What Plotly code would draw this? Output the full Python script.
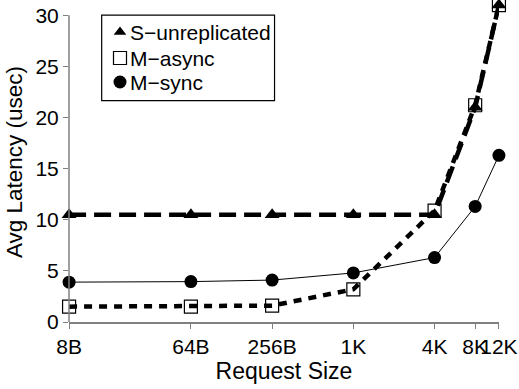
import plotly.graph_objects as go

sizes = [8, 64, 256, 1024, 4096, 8192, 12288]
tick_labels = ["8B", "64B", "256B", "1K", "4K", "8K", "12K"]
s_unrep = [10.5, 10.5, 10.5, 10.5, 10.5, 21.0, 31.0]
m_async = [1.5, 1.5, 1.6, 3.2, 10.9, 21.2, 31.0]
m_sync = [3.9, 3.95, 4.1, 4.8, 6.3, 11.3, 16.3]
y_ticks = [0, 5, 10, 15, 20, 25, 30]
series_names = ["S\u2212unreplicated", "M\u2212async", "M\u2212sync"]

FONT = "Liberation Sans, Arial, Helvetica, sans-serif"
TRI = dict(symbol="triangle-up", size=13, color="black")
SQ = dict(symbol="square-open", size=13, color="black", line=dict(width=1.2))
CIR = dict(symbol="circle", size=13, color="black")

fig = go.Figure()

fig.add_trace(go.Scatter(x=sizes, y=m_sync, mode="lines+markers", name=series_names[2],
                         line=dict(color="black", width=1), marker=CIR, cliponaxis=False))
fig.add_trace(go.Scatter(x=sizes, y=m_async, mode="lines+markers", name=series_names[1],
                         line=dict(color="black", width=4.5, dash="8px,7px"), marker=SQ,
                         cliponaxis=False))
fig.add_trace(go.Scatter(x=sizes, y=s_unrep, mode="lines+markers", name=series_names[0],
                         line=dict(color="black", width=4.5, dash="17px,8px"), marker=TRI,
                         cliponaxis=False))

# compact legend drawn on an overlay axis (0..1 in plot-area units)
leg_y = [0.906, 0.825, 0.75]
for sym, yy in zip([dict(TRI, size=11), SQ, CIR], leg_y):
    fig.add_trace(go.Scatter(x=[0.1186], y=[yy], mode="markers", marker=sym,
                             xaxis="x2", yaxis="y2", showlegend=False, hoverinfo="skip"))
for name, yy in zip(series_names, leg_y):
    fig.add_annotation(x=0.138, y=yy, xref="paper", yref="paper", text=name,
                       showarrow=False, xanchor="left", yanchor="middle",
                       font=dict(size=21, family=FONT, color="black"))
fig.add_shape(type="rect", xref="paper", yref="paper", x0=0.076, x1=0.478, y0=0.6916, y1=0.959,
              line=dict(color="black", width=1.2), fillcolor="rgba(0,0,0,0)")

fig.add_shape(type="line", xref="paper", yref="y", x0=0, x1=0, y0=0, y1=30,
              line=dict(color="#808080", width=1.5))

fig.update_layout(
    width=519, height=389,
    margin=dict(l=69, r=20, t=2, b=67),
    plot_bgcolor="white", paper_bgcolor="white",
    font=dict(family=FONT, size=21, color="black"),
    showlegend=False,
    xaxis=dict(type="log", range=[0.9025, 4.0900], tickvals=sizes, ticktext=tick_labels,
               tickangle=0, automargin=False,
               showgrid=False, zeroline=False, showline=True, linecolor="#808080", linewidth=1.5,
               ticks="outside", ticklen=5, tickcolor="#808080", tickfont=dict(size=21),
               title=dict(text="Request Size", font=dict(size=23), standoff=5)),
    yaxis=dict(range=[0, 31.3], tickvals=y_ticks, showgrid=False, zeroline=False, showline=False,
               automargin=False,
               ticks="outside", ticklen=5, tickcolor="#808080", tickfont=dict(size=21),
               title=dict(text="Avg Latency (usec)", font=dict(size=22.5), standoff=6)),
    xaxis2=dict(overlaying="x", range=[0, 1], visible=False, fixedrange=True),
    yaxis2=dict(overlaying="y", range=[0, 1], visible=False, fixedrange=True),
)

fig.write_html("out.html", config={"displayModeBar": False},
               post_script="document.body.style.margin='0';document.body.style.overflow='hidden';")
